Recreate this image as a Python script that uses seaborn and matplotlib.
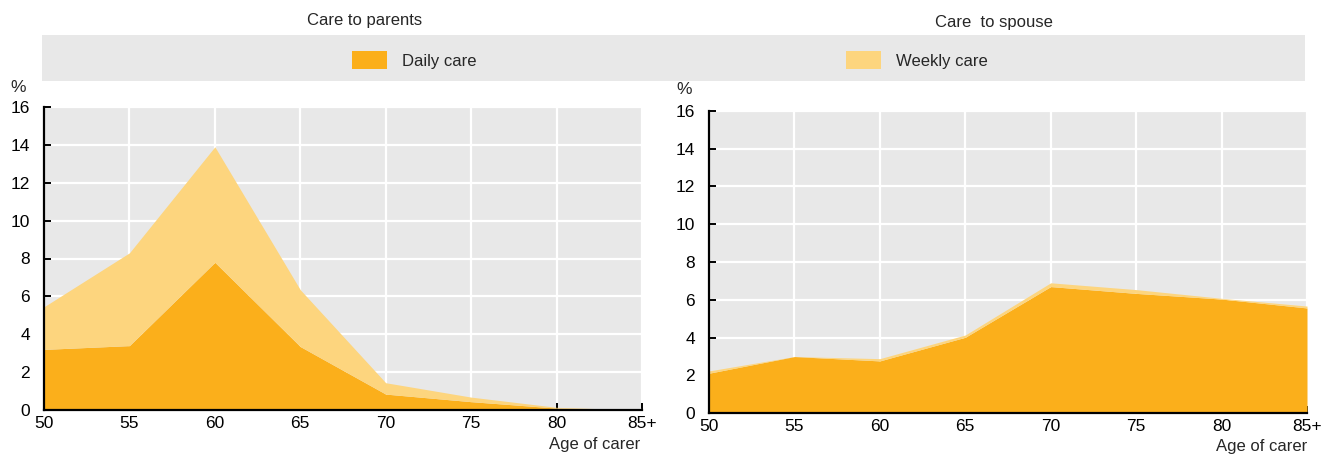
import matplotlib
matplotlib.use("Agg")
import matplotlib.pyplot as plt
import seaborn as sns
import numpy as np
from matplotlib.patches import Rectangle, Patch

ages = [50, 55, 60, 65, 70, 75, 80, 85]
age_labels = ["50", "55", "60", "65", "70", "75", "80", "85+"]

parents_daily = [3.2, 3.4, 7.8, 3.35, 0.84, 0.44, 0.1, 0.0]
parents_weekly = [2.25, 4.9, 6.1, 3.0, 0.6, 0.24, 0.04, 0.0]

spouse_daily = [2.12, 3.0, 2.77, 4.02, 6.7, 6.34, 6.04, 5.57]
spouse_weekly = [0.12, 0.0, 0.12, 0.12, 0.2, 0.2, 0.04, 0.1]

series_names = ["Daily care", "Weekly care"]
colors = ["#FBAF1B", "#FDD57E"]
titles = ["Care to parents", "Care  to spouse"]
yticks = [0, 2, 4, 6, 8, 10, 12, 14, 16]

sns.set_theme(style="white")
plt.rcParams["font.family"] = ["Liberation Sans", "DejaVu Sans"]

W, H = 1321, 454
fig = plt.figure(figsize=(W / 100, H / 100), dpi=100)

def fx(px):
    return px / W

def fy(py):
    return 1 - py / H

axes_px = [(44, 107, 642, 410), (709, 110.7, 1307, 413.3)]
data = [(parents_daily, parents_weekly), (spouse_daily, spouse_weekly)]
title_pos = [(365, 20), (994, 23)]
pct_pos = [(18, 87), (684, 90)]
xlab_pos = [(640, 445), (1307, 447)]

fs = 12.5
for (l, t, r, b), (d, w), tp, pp, xp, title in zip(axes_px, data, title_pos, pct_pos, xlab_pos, titles):
    ax = fig.add_axes([fx(l), fy(b), fx(r) - fx(l), fy(t) - fy(b)])
    ax.set_facecolor("#E8E8E8")
    ax.stackplot(ages, d, w, colors=colors, linewidth=0, zorder=3)
    ax.set_xlim(50, 85)
    ax.set_ylim(0, 16)
    ax.set_xticks(ages)
    ax.set_xticklabels(age_labels)
    ax.set_yticks(yticks)
    ax.grid(True, color="white", linewidth=1.6, zorder=1)
    ax.set_axisbelow(True)
    for s in ["top", "right"]:
        ax.spines[s].set_visible(False)
    for s in ["left", "bottom"]:
        ax.spines[s].set_color("black")
        ax.spines[s].set_linewidth(1.6)
        ax.spines[s].set_zorder(5)
    ax.tick_params(axis="both", direction="in", length=5, width=1.4, color="black",
                   labelsize=fs, labelcolor="black")
    ax.tick_params(axis="y", pad=10, left=True)
    ax.tick_params(axis="x", pad=4, bottom=True)
    fig.text(fx(tp[0]), fy(tp[1]), title, ha="center", va="center", fontsize=12)
    fig.text(fx(pp[0]), fy(pp[1]), "%", ha="center", va="center", fontsize=fs)
    fig.text(fx(xp[0]), fy(xp[1]), "Age of carer", ha="right", va="center", fontsize=12)

# legend band
fig.patches.append(Rectangle((fx(42), fy(81)), fx(1305) - fx(42), fy(35) - fy(81),
                             transform=fig.transFigure, facecolor="#E8E8E8",
                             edgecolor="none", zorder=0))
leg_x = [352, 846]
for name, col, lx in zip(series_names, colors, leg_x):
    fig.legend(handles=[Patch(facecolor=col, edgecolor="none", label=name)],
               loc="center left", bbox_to_anchor=(fx(lx), fy(60)),
               frameon=False, fontsize=12, handlelength=2.1, handleheight=1.3,
               handletextpad=0.9, borderpad=0, borderaxespad=0)

fig.savefig("out.png", dpi=100)
